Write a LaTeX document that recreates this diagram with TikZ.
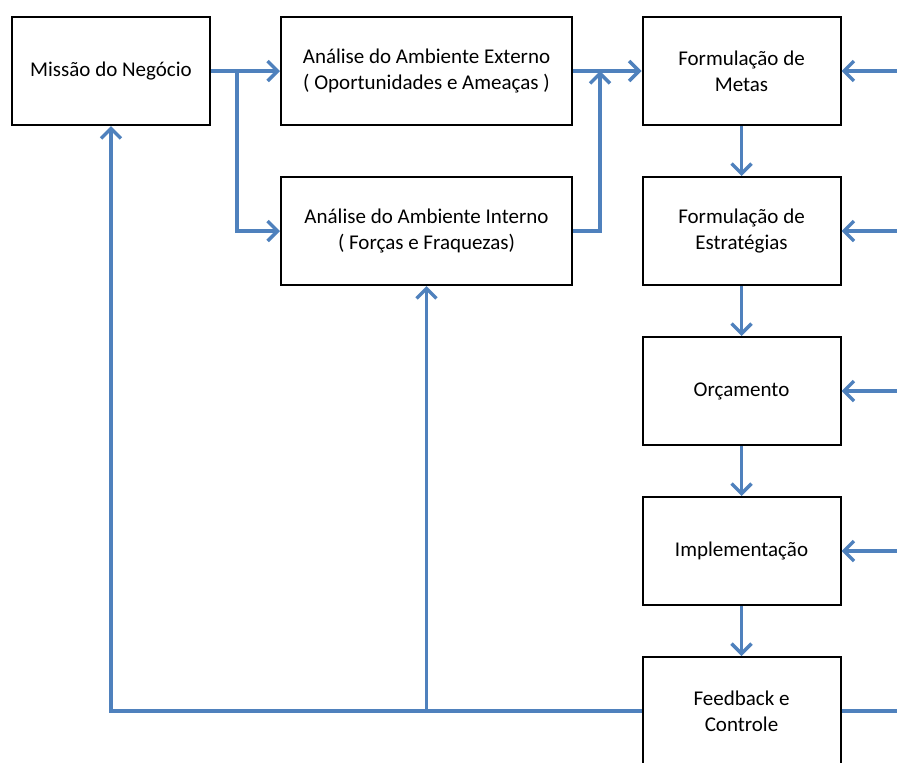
\documentclass[tikz,border=0pt]{standalone}
\usepackage{fontspec}
\setmainfont{Carlito}
\usetikzlibrary{arrows.meta}
\definecolor{flowblue}{HTML}{4F81BD}

\begin{document}
\begin{tikzpicture}[x=1pt, y=1pt, node distance=80pt, auto]
      % fixed frame, the last box runs off the bottom edge
      \path[use as bounding box, clip] (-55.5,35.5) rectangle (393,-345.5);
      \tikzstyle{block} = [rectangle, draw, line width=1pt, text centered, align=center,
                           minimum width=99pt, minimum height=54pt,
                           font=\fontsize{10.5}{13}\selectfont]
      \tikzstyle{wideblock} = [block, minimum width=145.5pt]
      \tikzstyle{wire} = [draw, flowblue, line width=1.75pt]
      \tikzstyle{line} = [wire, -{Straight Barb[length=5pt,width=10pt,line width=1.75pt]}]
        \node [block] (mission) at (0,0) {Missão do Negócio};
        \node [wideblock, right of = mission, node distance = 157.75pt] (external) {Análise do Ambiente Externo\\( Oportunidades e Ameaças )};
        \node [wideblock, below of = external] (internal) {Análise do Ambiente Interno\\( Forças e Fraquezas)};
        \node [block, right of = external, node distance = 157.5pt] (goals) {Formulação de\\Metas};
        \node [block, below of = goals] (strategies) {Formulação de\\Estratégias};
        \node [block, below of = strategies] (budget) {Orçamento};
        \node [block, below of = budget] (implementation) {Implementação};
        \node [block, below of = implementation] (feedback) {Feedback e\\Controle};
        \coordinate (split) at (63,0);
        \coordinate (riser) at (244.5,0);
        \coordinate (edge) at (393,0);
        \path [line] (mission) -- (external);
        \path [line] (split) |- (internal.west);
        \path [line] (external) -- (goals);
        \path [line] (internal.east) -| (riser);
        \path [line] (goals) -- (strategies);
        \path [line] (strategies) -- (budget);
        \path [line] (budget) -- (implementation);
        \path [line] (implementation) -- (feedback);
        \path [line] (edge |- goals) -- (goals.east);
        \path [line] (edge |- strategies) -- (strategies.east);
        \path [line] (edge |- budget) -- (budget.east);
        \path [line] (edge |- implementation) -- (implementation.east);
        \path [wire] (feedback.east) -- (edge |- feedback);
        \path [line] (feedback.west) -| (mission.south);
        \path [line] (internal.south |- feedback) -- (internal.south);
      \end{tikzpicture}
\end{document}
